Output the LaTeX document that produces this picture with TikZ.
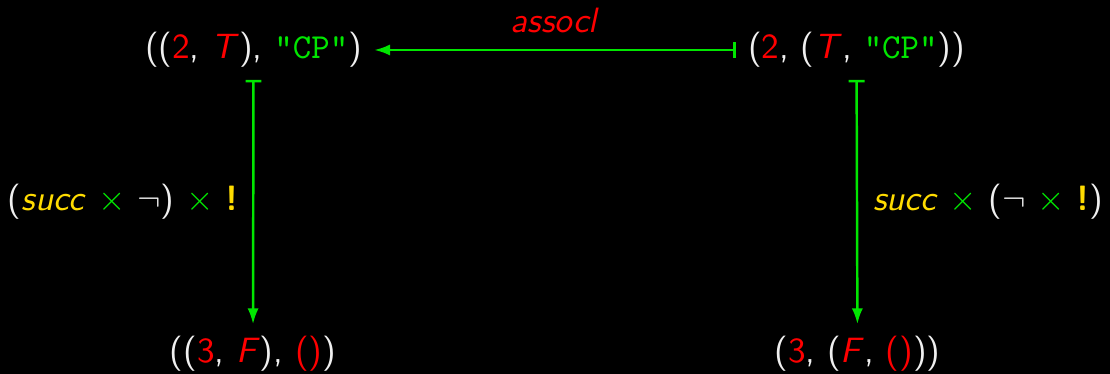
\documentclass[tikz,border=0pt]{standalone}
\usepackage{fontspec}
\usetikzlibrary{arrows.meta}
\definecolor{myred}{RGB}{255,0,0}
\definecolor{mygreen}{RGB}{0,230,0}
\definecolor{myyellow}{RGB}{255,220,0}
\definecolor{mywhite}{RGB}{240,240,240}
\newcommand{\rd}[1]{\textcolor{myred}{#1}}
\newcommand{\gr}[1]{\textcolor{mygreen}{#1}}
\newcommand{\yl}[1]{\textcolor{myyellow}{#1}}
\newcommand{\cp}{\gr{\texttt{"CP"}}}
\newcommand{\tms}{\gr{$\times$}}
\begin{document}
\begin{tikzpicture}[x=0.01cm,y=-0.01cm,
  every node/.style={font=\sffamily, text=mywhite},
  obj/.style={inner sep=3.3pt},
  mor/.style={draw=mygreen, line width=0.7pt, {Bar[width=4.5pt]}-{Latex[length=4.5pt,width=3.2pt]}},
  lab/.style={inner sep=0pt}]
\fill[black] (0,0) rectangle (1110,374);
\useasboundingbox (0,0) rectangle (1110,374);
\node[obj] (TL) at (253.5,50) {((\rd{2}, \rd{\textit{T}}), \cp)};
\node[obj] (TR) at (856.5,50) {(\rd{2}, (\rd{\textit{T}}, \cp))};
\node[obj] (BL) at (253,354) {((\rd{3}, \rd{\textit{F}}), \rd{()})};
\node[obj] (BR) at (857.5,354) {(\rd{3}, (\rd{\textit{F}}, \rd{()}))};
\draw[mor] (TR) -- node[lab, above=0.16cm, text=myred] (la) {\textit{assocl}} (TL);
\draw[mor] (TL) -- node[lab, left=0.14cm] (ll) {(\yl{\textit{succ}} \tms{} $\neg$) \tms{} \yl{\textbf{!}}} (BL);
\draw[mor] (TR) -- node[lab, right=0.15cm] (lr) {\yl{\textit{succ}} \tms{} ($\neg$ \tms{} \yl{\textbf{!}})} (BR);
\end{tikzpicture}
\end{document}
